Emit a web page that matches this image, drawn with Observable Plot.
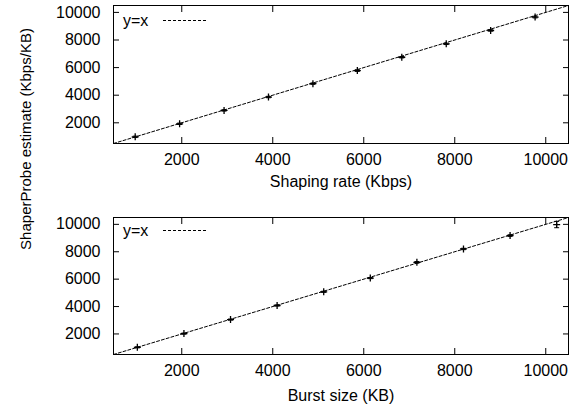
<!DOCTYPE html>
<html><head><meta charset="utf-8">
<script src="https://cdn.jsdelivr.net/npm/d3@7"></script>
<script src="https://cdn.jsdelivr.net/npm/@observablehq/plot@0.6"></script>
<style>
body{margin:0;background:#fff;}
#wrap{position:relative;width:581px;height:409px;font-family:"Liberation Sans",Arial,sans-serif;}
#wrap svg{display:block;}
#overlay{position:absolute;left:0;top:0;pointer-events:none;}
</style></head><body>
<div id="wrap"></div>
<script>
const shapingRate = [977, 1953, 2930, 3906, 4883, 5859, 6836, 7813, 8789, 9766];
const shapingEst  = [982, 1927, 2897, 3867, 4836, 5782, 6751, 7721, 8690, 9660];
const shapingErr  = [50, 50, 50, 50, 50, 60, 50, 50, 50, 60];
const burstSize = [1024, 2048, 3072, 4096, 5120, 6144, 7168, 8192, 9216, 10240];
const burstEst  = [1023, 2024, 3050, 4076, 5077, 6078, 7226, 8203, 9180, 9985];
const burstErr  = [40, 40, 40, 40, 40, 40, 60, 50, 60, 230];
const tickValues = [2000, 4000, 6000, 8000, 10000];
const domain = [500, 10500];
const xTitles = ["Shaping rate (Kbps)", "Burst size (KB)"];
const yTitle = "ShaperProbe estimate (Kbps/KB)";
const legendLabel = "y=x";

const font = '"Liberation Sans", Arial, sans-serif';
const plusSym = {draw(ctx){ ctx.moveTo(-3.5,0); ctx.lineTo(3.5,0); ctx.moveTo(0,-3.5); ctx.lineTo(0,3.5); }};
const capSym = {draw(ctx){ ctx.moveTo(-2.5,0); ctx.lineTo(2.5,0); }};

function panel(xs, ys, es, title, opts) {
  const data = xs.map((x, i) => ({x, y: ys[i], lo: ys[i] - es[i], hi: ys[i] + es[i]}));
  const diag = domain.map(v => ({x: v, y: v}));
  return Plot.plot({
    width: 581, height: opts.height,
    marginLeft: 113, marginRight: 13, marginTop: opts.mt, marginBottom: opts.mb,
    style: {fontFamily: font, fontSize: "16px", color: "#000", background: "#fff"},
    x: {domain, ticks: tickValues},
    y: {domain, ticks: tickValues},
    marks: [
      Plot.line(diag, {x: "x", y: "y", stroke: "#000", strokeWidth: 1, strokeDasharray: "3,2"}),
      Plot.ruleX(data, {x: "x", y1: "lo", y2: "hi", stroke: "#000", strokeWidth: 1}),
      Plot.dot(data, {x: "x", y: "lo", symbol: capSym, stroke: "#000", strokeWidth: 1}),
      Plot.dot(data, {x: "x", y: "hi", symbol: capSym, stroke: "#000", strokeWidth: 1}),
      Plot.dot(data, {x: "x", y: "y", symbol: plusSym, stroke: "#000", strokeWidth: 1.3}),
      Plot.axisX({anchor: "bottom", ticks: tickValues, tickSize: -6, tickFormat: () => "", label: null}),
      Plot.axisX({anchor: "top", ticks: tickValues, tickSize: -6, tickFormat: () => "", label: null}),
      Plot.axisY({anchor: "left", ticks: tickValues, tickSize: -6, tickFormat: () => "", label: null}),
      Plot.axisY({anchor: "right", ticks: tickValues, tickSize: -6, tickFormat: () => "", label: null}),
      Plot.axisX({anchor: "bottom", ticks: tickValues, tickSize: 0, tickPadding: 10, fontSize: 16, tickFormat: d => String(d),
                  label: title, labelAnchor: "center", labelArrow: "none", labelOffset: opts.lo}),
      Plot.axisY({anchor: "left", ticks: tickValues, tickSize: 0, tickPadding: 13, fontSize: 16, tickFormat: d => String(d), label: null}),
      Plot.frame({stroke: "#000", strokeWidth: 1})
    ]
  });
}

const wrap = document.getElementById("wrap");
wrap.appendChild(panel(shapingRate, shapingEst, shapingErr, xTitles[0], {height: 200, mt: 5, mb: 57, lo: 43}));
wrap.appendChild(panel(burstSize, burstEst, burstErr, xTitles[1], {height: 209, mt: 17, mb: 55, lo: 46}));

// overlay: shared y title and legends
const ov = d3.select(wrap).append("svg").attr("id", "overlay").attr("width", 581).attr("height", 409)
  .style("font-family", font).style("font-size", "16px");
ov.append("text").attr("transform", "translate(31,139) rotate(-90)").attr("text-anchor", "middle")
  .attr("fill", "#000").style("font-size", "15px").text(yTitle);
[20.5, 230.5].forEach(y => {
  ov.append("text").attr("x", 123).attr("y", y).attr("dy", "0.35em").attr("fill", "#000").text(legendLabel);
  ov.append("line").attr("x1", 163).attr("x2", 208).attr("y1", y).attr("y2", y)
    .attr("stroke", "#000").attr("stroke-width", 1).attr("stroke-dasharray", "3,2");
});
</script>
</body></html>
